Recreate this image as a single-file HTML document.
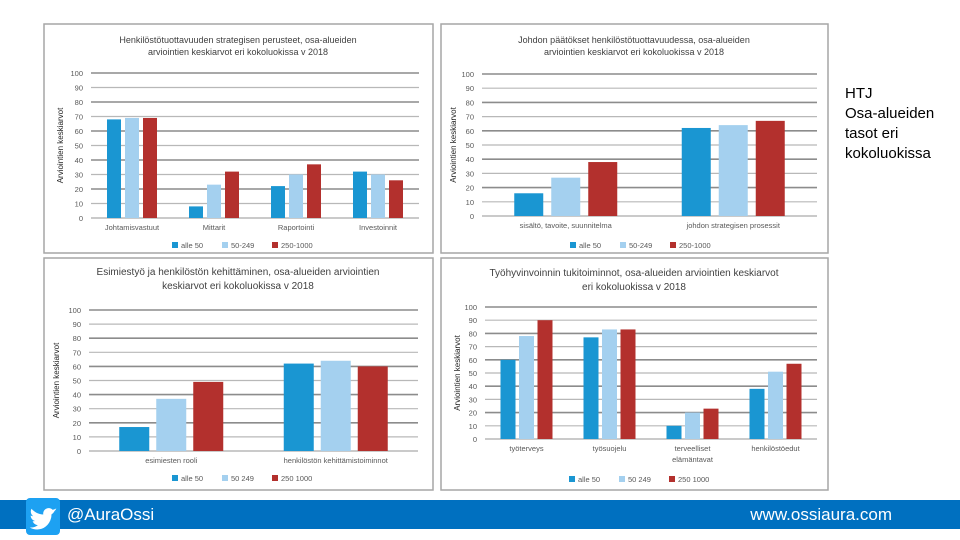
<!DOCTYPE html>
<html><head><meta charset="utf-8">
<style>
body{margin:0;width:960px;height:540px;background:#fff;overflow:hidden;font-family:"Liberation Sans",sans-serif;position:relative}
svg{position:absolute;left:0;top:0}
.side{position:absolute;left:845px;top:84px;font-size:15px;line-height:20px;color:#000}
.band{position:absolute;left:0;top:500px;width:960px;height:29px;background:#0070c0}
.tw{position:absolute;left:26px;top:498px;width:34px;height:37px;background:#1da1f2;border-radius:4px}
.handle{position:absolute;left:67px;top:505px;color:#fff;font-size:17px}
.url{position:absolute;right:68px;top:505px;color:#fff;font-size:17px}
</style></head><body>
<svg id="c" width="960" height="540"></svg>
<div class="side">HTJ<br>Osa-alueiden<br>tasot eri<br>kokoluokissa</div>
<div class="band"></div>
<div class="tw"><svg width="34" height="37" viewBox="0 0 24 24"><path fill="#fff" d="M22 5.9c-.7.3-1.5.5-2.3.6.8-.5 1.4-1.3 1.7-2.2-.8.5-1.6.8-2.5 1-1.6-1.7-4.4-1.6-5.9.2-.7.9-1 2-.8 3.1C8.9 8.4 5.9 6.9 3.900 4.500c-1 1.800-.5 4.100 1.200 5.300-.6 0-1.200-.2-1.800-.5 0 1.900 1.300 3.500 3.200 3.900-.6.200-1.200.200-1.800.1.5 1.600 2 2.700 3.700 2.800-1.600 1.300-3.700 1.900-5.800 1.600 5.600 3.500 13.300.8 15.100-6.600.2-.8.3-1.600.2-2.400.8-.6 1.500-1.300 2-2.100z" transform="translate(0,2)"/></svg></div>
<div class="handle">@AuraOssi</div>
<div class="url">www.ossiaura.com</div>
<script>
const seriesNames=["alle 50","50-249","250-1000"];
const seriesNames34=["alle 50","50 249","250 1000"];
const yTicks=[0,10,20,30,40,50,60,70,80,90,100];
const cats1=["Johtamisvastuut","Mittarit","Raportointi","Investoinnit"];
const c1alle50=[68,8,22,32];
const c1mid=[69,23,30,30];
const c1big=[69,32,37,26];
const cats2=["sisältö, tavoite, suunnitelma","johdon strategisen prosessit"];
const c2alle50=[16,62];
const c2mid=[27,64];
const c2big=[38,67];
const cats3=["esimiesten rooli","henkilöstön kehittämistoiminnot"];
const c3alle50=[17,62];
const c3mid=[37,64];
const c3big=[49,60];
const cats4=[["työterveys"],["työsuojelu"],["terveelliset","elämäntavat"],["henkilöstöedut"]];
const c4alle50=[60,77,10,38];
const c4mid=[78,83,20,51];
const c4big=[90,83,23,57];
const colors=["#1a96d2","#a4d0ef","#b3302d"];
const svg=document.getElementById('c');
const NS='http://www.w3.org/2000/svg';
function mk(tag,attrs,parent){const e=document.createElementNS(NS,tag);for(const k in attrs)e.setAttribute(k,attrs[k]);(parent||svg).appendChild(e);return e;}
function txt(x,y,s,size,anchor,parent,fill){const t=mk('text',{x:x,y:y,'font-size':size,'text-anchor':anchor||'middle',fill:fill||'#404040'},parent);t.textContent=s;return t;}
function chart(cfg){
  const g=mk('g',{});
  
  
  const p=mk('rect',{x:cfg.bx,y:cfg.by,width:cfg.bw,height:cfg.bh,fill:'#fff',stroke:'#a6a6a6','stroke-width':1.5},g);
  
  
  cfg.title.forEach((l,i)=>{const t=txt(cfg.tx,cfg.ty+i*cfg.tl,l,cfg.ts,'middle',g,'#404040');
    
    });
  const Y=v=>cfg.y0-(cfg.y0-cfg.y100)*v/100;
  yTicks.forEach(v=>{mk('line',{x1:cfg.x0,x2:cfg.x1,y1:Y(v),y2:Y(v),stroke:v%20==0&&v>0?'#8c8c8c':'#b8b8b8','stroke-width':v%20==0?1.6:1.2},g);
    const t=txt(cfg.x0-8,Y(v)+3,String(v),7.5,'end',g,'#595959');
    
    });
  const yt=txt(0,0,'Arviointien keskiarvot',8,'middle',g,'#262626');
  yt.setAttribute('transform',`translate(${cfg.yx},${(cfg.y0+cfg.y100)/2}) rotate(-90)`);
  
  
  const n=cfg.cats.length, cw=(cfg.x1-cfg.x0)/n;
  const X=i=>cfg.x0+cw*(i+0.5);
  cfg.series.forEach((s,si)=>{s.forEach((v,i)=>{
    const cx=X(i)+(si-1)*cfg.sp;
    const r=mk('rect',{x:cx-cfg.w/2,y:Y(v),width:cfg.w,height:Y(0)-Y(v),fill:colors[si]},g);
    
    
  });});
  cfg.cats.forEach((c,i)=>{const lines=Array.isArray(c)?c:[c];lines.forEach((l,j)=>{
    const t=txt(X(i),cfg.y0+12+j*11,l,7.5,'middle',g,'#595959');
    
    });});
  let lx=cfg.lx;
  cfg.leg.forEach((s,si)=>{
    const r=mk('rect',{x:lx,y:cfg.ly-6,width:6,height:6,fill:colors[si]},g);
    
    
    const t=txt(lx+9,cfg.ly,s,7.5,'start',g,'#595959');
    
    
    lx+=cfg.lsp;});
}
chart({name:'chart-strategic-foundations',bx:44,by:24,bw:389,bh:229,tx:238,ty:43,tl:12,ts:9,
 title:['Henkilöstötuottavuuden strategisen perusteet, osa-alueiden','arviointien keskiarvot eri kokoluokissa v 2018'],
 x0:91,x1:419,y0:218,y100:73,yx:63,cats:cats1,series:[c1alle50,c1mid,c1big],w:14,sp:18,
 leg:seriesNames,lx:172,ly:248,lsp:50});
chart({name:'chart-management-decisions',bx:441,by:24,bw:387,bh:229,tx:634,ty:43,tl:12,ts:9,
 title:['Johdon päätökset henkilöstötuottavuudessa, osa-alueiden','arviointien keskiarvot eri kokoluokissa v 2018'],
 x0:482,x1:817,y0:216,y100:74,yx:456,cats:cats2,series:[c2alle50,c2mid,c2big],w:29,sp:37,
 leg:seriesNames,lx:570,ly:248,lsp:50});
chart({name:'chart-supervisor-work',bx:44,by:258,bw:389,bh:232,tx:238,ty:275,tl:14,ts:10,
 title:['Esimiestyö ja henkilöstön kehittäminen, osa-alueiden arviointien','keskiarvot eri kokoluokissa v 2018'],
 x0:89,x1:418,y0:451,y100:310,yx:59,cats:cats3,series:[c3alle50,c3mid,c3big],w:30,sp:37,
 leg:seriesNames34,lx:172,ly:481,lsp:50});
chart({name:'chart-wellbeing-support',bx:441,by:258,bw:387,bh:232,tx:634,ty:276,tl:14,ts:10,
 title:['Työhyvinvoinnin tukitoiminnot, osa-alueiden arviointien keskiarvot','eri kokoluokissa v 2018'],
 x0:485,x1:817,y0:439,y100:307,yx:460,cats:cats4,series:[c4alle50,c4mid,c4big],w:15,sp:18.5,
 leg:seriesNames34,lx:569,ly:482,lsp:50});
</script>
</body></html>
